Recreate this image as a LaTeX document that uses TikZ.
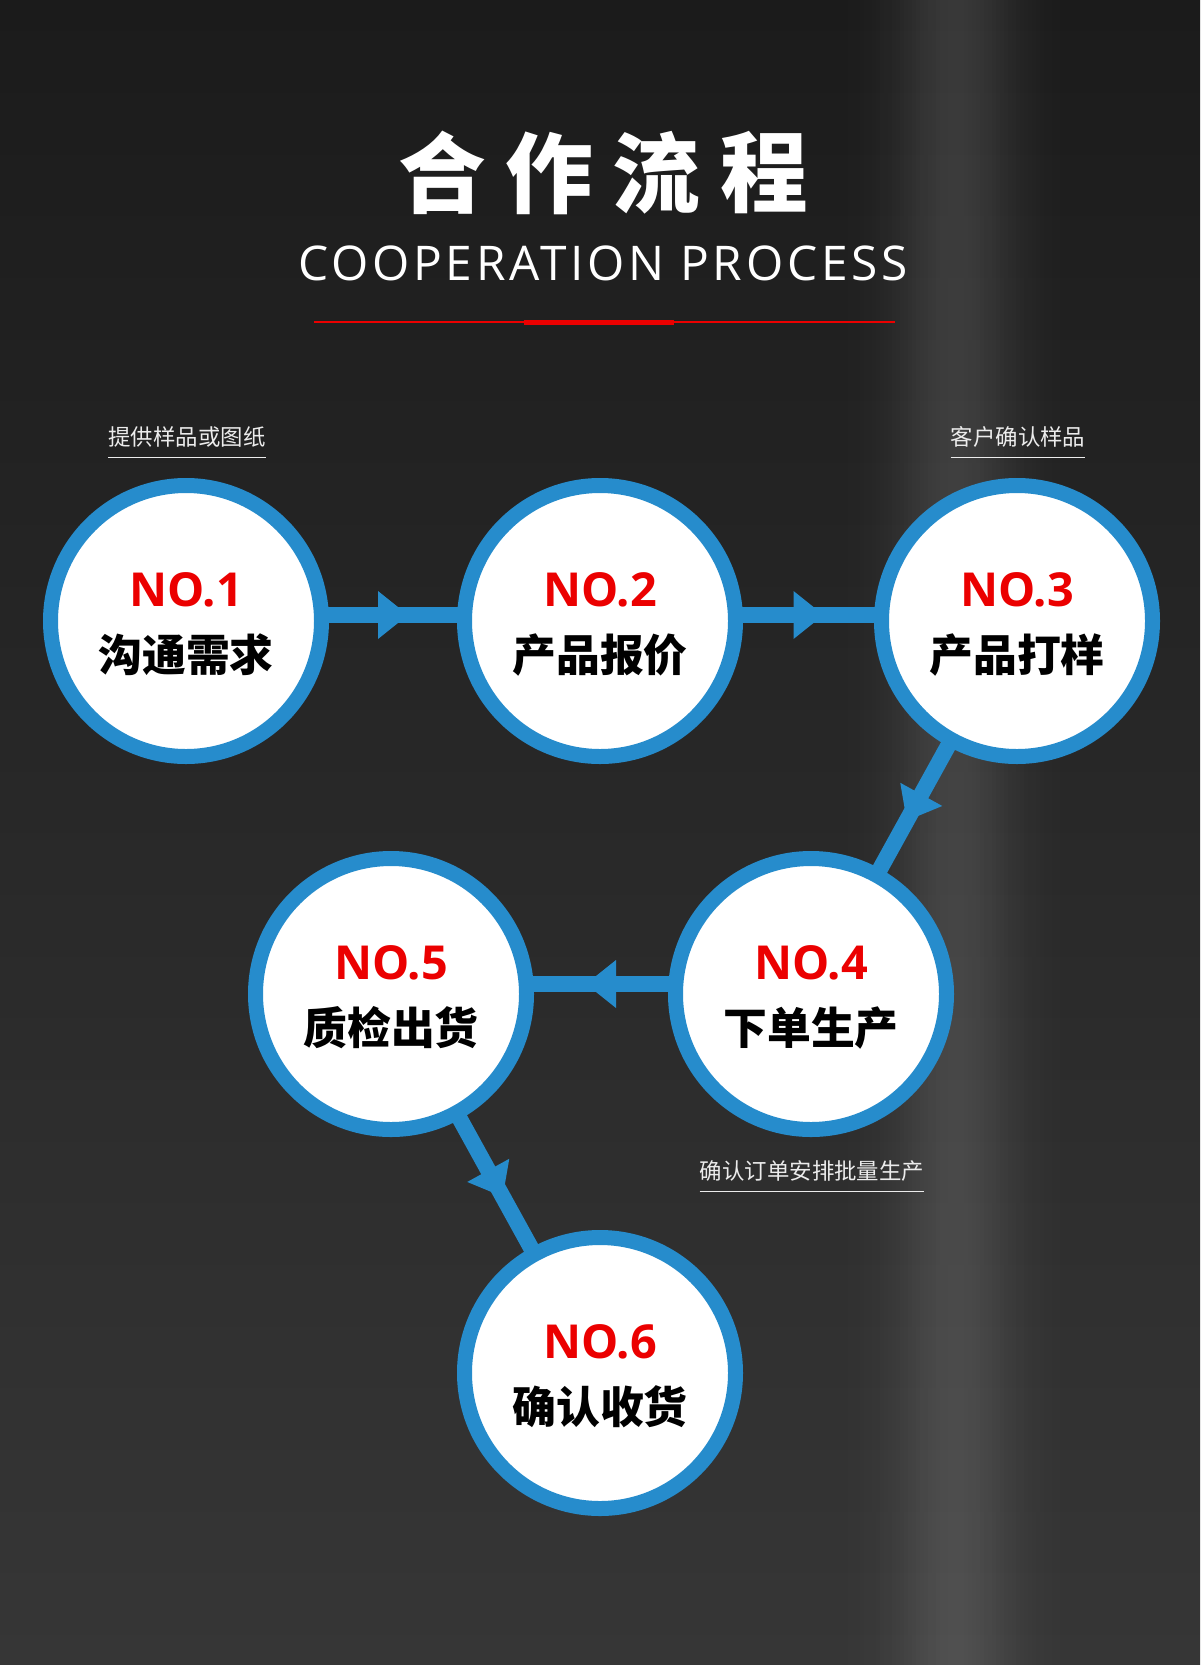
\documentclass[tikz,border=0pt]{standalone}
\usepackage{fontspec}
\usepackage{tikz}
\usetikzlibrary{decorations.markings}

\newfontfamily\cjkfont{Noto Sans CJK SC}
\newfontfamily\latinfont{Open Sans}
\newfontfamily\spacedfont[LetterSpace=7.8]{Open Sans}

\definecolor{stepblue}{RGB}{38,140,204}
\definecolor{stepred}{RGB}{235,0,0}
\definecolor{bgtop}{RGB}{27,27,27}
\definecolor{bgbottom}{RGB}{54,54,54}
\definecolor{notegray}{RGB}{236,236,236}

\pgfdeclarelayer{bg}
\pgfdeclarelayer{links}
\pgfsetlayers{bg,links,main}

\tikzset{
  stepcircle/.style={circle, draw=stepblue, fill=white, line width=15bp,
    minimum size=271bp, inner sep=0pt, outer sep=0pt},
  numtext/.style={text=stepred, inner sep=0pt,
    font=\latinfont\bfseries\fontsize{47}{50}\selectfont},
  steptext/.style={text=black, inner sep=0pt,
    font=\cjkfont\bfseries\fontsize{44}{48}\selectfont},
  titlechar/.style={text=white, inner sep=0pt,
    font=\cjkfont\bfseries\fontsize{88}{92}\selectfont},
  subtitle/.style={text=white, inner sep=0pt,
    font=\spacedfont\fontsize{48}{52}\selectfont},
  note/.style={text=notegray, inner sep=0pt,
    font=\cjkfont\fontsize{22.5}{26}\selectfont},
  noteline/.style={draw=notegray, line width=1.5bp},
  flowline/.style={draw=stepblue, line width=16bp, postaction={decorate},
    decoration={markings, mark=at position 0.5 with
      {\fill[stepblue] (-15bp,24bp) -- (15bp,0bp) -- (-15bp,-24bp) -- cycle;}}},
}

\begin{document}
\begin{tikzpicture}[x=1bp, y=-1bp]
  \useasboundingbox (0,0) rectangle (1200,1665);

  % Background with light band on the right
  \begin{pgfonlayer}{bg}
    \shade[top color=bgtop, bottom color=bgbottom] (0,0) rectangle (1200,1665);
    \foreach \i in {0,...,79} {
      \pgfmathsetmacro\xa{820+4*\i}
      \pgfmathsetmacro\al{0.13*exp(-((\xa+2-955)/60)^2)}
      \fill[white, fill opacity=\al] (\xa,0) rectangle (\xa+4,1665);
    }
  \end{pgfonlayer}

  % Title
  \foreach \ch [count=\i from 0] in {合,作,流,程}
    \node[titlechar] (title\i) at (442+107.3*\i,173) {\ch};
  \node[subtitle] (sub) at (603,263) {COOPERATION PROCESS};
  \draw[stepred, line width=1.3bp] (314,322) -- (895,322);
  \draw[stepred, line width=5bp] (524,322) -- (674,322);

  % Steps
  \foreach \n/\x/\y/\lab in {1/186/621/沟通需求, 2/600/621/产品报价,
      3/1017/621/产品打样, 4/811/994/下单生产, 5/391/994/质检出货,
      6/600/1373/确认收货} {
    \node[stepcircle] (st\n) at (\x,\y) {};
    \node[numtext] (no\n) at ([yshift=31bp]st\n.center) {NO.\n};
    \node[steptext] (lab\n) at ([yshift=-34bp]st\n.center) {\lab};
  }

  % Connectors
  \begin{pgfonlayer}{links}
    \draw[flowline] ([yshift=6bp]st1.east) -- ([yshift=6bp]st2.west);
    \draw[flowline] ([yshift=6bp]st2.east) -- ([yshift=6bp]st3.west);
    \draw[flowline] (st3) -- (st4);
    \draw[flowline] ([yshift=10bp]st4.west) -- ([yshift=10bp]st5.east);
    \draw[flowline] (st5) -- (st6);
  \end{pgfonlayer}

  % Notes
  \node[note] (note1) at (187,437) {提供样品或图纸};
  \node[note] (note2) at (1018,437) {客户确认样品};
  \node[note] (note3) at (812,1171) {确认订单安排批量生产};
  \foreach \k in {1,2,3}
    \draw[noteline] ([yshift=-10bp]note\k.south west) -- ([yshift=-10bp]note\k.south east);
\end{tikzpicture}
\end{document}
